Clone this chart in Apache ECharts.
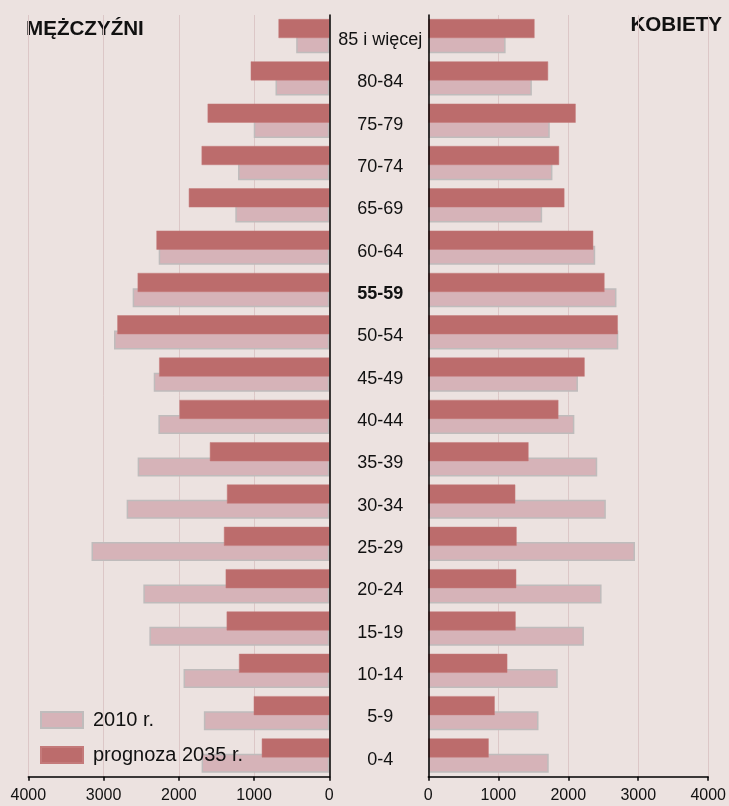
<!DOCTYPE html>
<html>
<head>
<meta charset="utf-8">
<script src="https://cdn.jsdelivr.net/npm/echarts@6/dist/echarts.min.js"></script>
<style>
html,body{margin:0;padding:0;background:#ece2e0;}
#main{width:729px;height:806px;}
</style>
</head>
<body>
<div id="main"></div>
<script>
// Age groups, top to bottom
var categories = ['85 i więcej','80-84','75-79','70-74','65-69','60-64','55-59','50-54','45-49','40-44','35-39','30-34','25-29','20-24','15-19','10-14','5-9','0-4'];
// Men (thousands)
var men2010 = [440, 715, 1004, 1213, 1249, 2267, 2613, 2861, 2333, 2271, 2547, 2693, 3160, 2471, 2391, 1937, 1667, 1697];
var men2035 = [675, 1044, 1617, 1697, 1867, 2297, 2547, 2817, 2261, 1991, 1587, 1360, 1400, 1377, 1364, 1200, 1004, 897];
// Women (thousands)
var women2010 = [1105, 1480, 1736, 1774, 1627, 2385, 2689, 2715, 2139, 2087, 2414, 2537, 2954, 2476, 2224, 1850, 1575, 1721];
var women2035 = [1518, 1712, 2106, 1869, 1945, 2357, 2518, 2708, 2234, 1859, 1432, 1243, 1262, 1257, 1248, 1129, 949, 863];
var xTicks = [0, 1000, 2000, 3000, 4000];
var boldCategory = '55-59';
var seriesNames = ['2010 r.', 'prognoza 2035 r.'];

var FONT = '"Liberation Sans", Arial, sans-serif';
var DARK = '#bc6c6c';
var LIGHT = '#d6b3b8';
var GRIDC = '#dcc7c7';

var chart = echarts.init(document.getElementById('main'));

var catData = categories.map(function (c) {
  return c === boldCategory
    ? { value: c, textStyle: { fontWeight: 'bold', fontSize: 18, color: '#111', fontFamily: FONT, align: 'center', verticalAlign: 'top', lineHeight: 8 } }
    : c;
});

function xAxisCfg(idx, inverse) {
  return {
    type: 'value', gridIndex: idx, min: xTicks[0], max: xTicks[xTicks.length - 1],
    interval: xTicks[1] - xTicks[0], inverse: inverse,
    axisLine: { show: true, lineStyle: { color: '#000', width: 1.5 } },
    axisTick: { show: true, length: 4, lineStyle: { color: '#000', width: 1.5 } },
    axisLabel: { fontSize: 16, color: '#111', fontFamily: FONT, margin: 11,
      formatter: function (v) { return String(v); } },
    splitLine: { show: true, lineStyle: { color: GRIDC, width: 1 } }
  };
}

var lightStyle = { color: LIGHT, borderColor: '#bfbcbc', borderWidth: 1.5 };
var darkStyle = { color: DARK, borderColor: '#c47a7a', borderWidth: 0.5 };

var option = {
  backgroundColor: '#ece2e0',
  animation: false,
  textStyle: { fontFamily: FONT },
  grid: [
    { left: 28.3, right: 729 - 329.3, top: 15, bottom: 29.3 },
    { left: 428.3, right: 729 - 709.3, top: 15, bottom: 29.3 }
  ],
  xAxis: [xAxisCfg(0, true), xAxisCfg(1, false)],
  yAxis: [
    {
      type: 'category', gridIndex: 0, data: catData, inverse: true, position: 'right', z: 10,
      axisLine: { show: true, lineStyle: { color: '#000', width: 1.5 } },
      axisTick: { show: false }, axisLabel: { show: false }, splitLine: { show: false }
    },
    {
      type: 'category', gridIndex: 1, data: catData, inverse: true, position: 'left', z: 10,
      axisLine: { show: true, lineStyle: { color: '#000', width: 1.5 } },
      axisTick: { show: false },
      axisLabel: { show: true, align: 'center', margin: 48, fontSize: 18, color: '#111', fontFamily: FONT,
        verticalAlign: 'top', lineHeight: 8 },
      splitLine: { show: false }
    }
  ],
  legend: {
    orient: 'vertical', left: 35, top: 705, itemWidth: 42, itemHeight: 16, itemGap: 15,
    icon: 'rect',
    data: seriesNames,
    textStyle: { fontSize: 20, color: '#111', fontFamily: FONT, padding: [0, 0, 0, 5] }
  },
  graphic: [
    { type: 'text', left: 26, top: 19, style: { text: 'MĘŻCZYŹNI', font: 'bold 20.6px ' + FONT, fill: '#111' } },
    { type: 'text', right: 7, top: 15, style: { text: 'KOBIETY', font: 'bold 20.6px ' + FONT, fill: '#111' } }
  ],
  series: [
    { name: seriesNames[1], type: 'bar', xAxisIndex: 0, yAxisIndex: 0, data: men2035, barWidth: 19, barGap: '-20%', z: 3, itemStyle: darkStyle },
    { name: seriesNames[0], type: 'bar', xAxisIndex: 0, yAxisIndex: 0, data: men2010, barWidth: 19, barGap: '-20%', z: 2, itemStyle: lightStyle },
    { name: seriesNames[1], type: 'bar', xAxisIndex: 1, yAxisIndex: 1, data: women2035, barWidth: 19, barGap: '-20%', z: 3, itemStyle: darkStyle },
    { name: seriesNames[0], type: 'bar', xAxisIndex: 1, yAxisIndex: 1, data: women2010, barWidth: 19, barGap: '-20%', z: 2, itemStyle: lightStyle }
  ]
};
chart.setOption(option);
</script>
</body>
</html>
